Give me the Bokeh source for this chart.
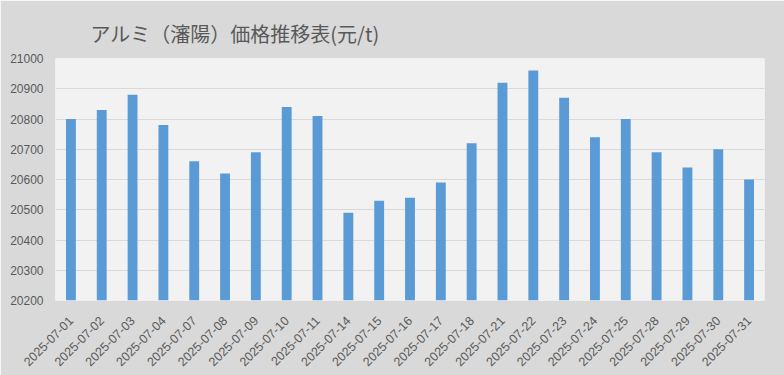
import math
from bokeh.plotting import figure
from bokeh.models import ColumnDataSource, Range1d, FixedTicker
from bokeh.embed import file_html
from bokeh.resources import INLINE

dates = ["2025-07-01", "2025-07-02", "2025-07-03", "2025-07-04", "2025-07-07",
         "2025-07-08", "2025-07-09", "2025-07-10", "2025-07-11", "2025-07-14",
         "2025-07-15", "2025-07-16", "2025-07-17", "2025-07-18", "2025-07-21",
         "2025-07-22", "2025-07-23", "2025-07-24", "2025-07-25", "2025-07-28",
         "2025-07-29", "2025-07-30", "2025-07-31"]
prices = [20800, 20830, 20880, 20780, 20660,
          20620, 20690, 20840, 20810, 20490,
          20530, 20540, 20590, 20720, 20920,
          20960, 20870, 20740, 20800, 20690,
          20640, 20700, 20600]
y_ticks = [20200, 20300, 20400, 20500, 20600, 20700, 20800, 20900, 21000]
title_text = "アルミ（瀋陽）価格推移表(元/t)"

source = ColumnDataSource(data=dict(date=dates, price=prices))

p = figure(x_range=dates, y_range=Range1d(y_ticks[0], y_ticks[-1]),
           width=784, height=375, output_backend="svg", toolbar_location=None,
           min_border_left=55, min_border_right=20, min_border_top=58,
           min_border_bottom=75)

p.vbar(x="date", top="price", bottom=y_ticks[0], width=0.32, source=source,
       fill_color="#5b9bd5", line_color=None)

p.background_fill_color = "#f2f2f2"
p.border_fill_color = "#d9d9d9"
p.outline_line_color = None

p.title.text = title_text
p.title.text_font = "Noto Sans CJK JP"
p.title.text_font_size = "20px"
p.title.text_font_style = "normal"
p.title.text_color = "#595959"
p.title.align = "left"
p.title.offset = 35
p.title.standoff = 21

p.xgrid.grid_line_color = None
p.ygrid.grid_line_color = "#d9d9d9"
p.ygrid.grid_line_width = 1

p.yaxis.ticker = FixedTicker(ticks=y_ticks)
p.yaxis.axis_line_color = None
p.yaxis.major_tick_line_color = None
p.yaxis.minor_tick_line_color = None
p.yaxis.major_tick_out = 0
p.yaxis.major_label_standoff = 12
p.yaxis.major_label_text_font = "Liberation Sans"
p.yaxis.major_label_text_font_size = "12px"
p.yaxis.major_label_text_color = "#595959"

p.xaxis.axis_line_color = None
p.xaxis.major_tick_line_color = None
p.xaxis.major_tick_out = 0
p.xaxis.major_label_standoff = 18
p.xaxis.major_label_orientation = math.pi / 4
p.xaxis.major_label_text_font = "Liberation Sans"
p.xaxis.major_label_text_font_size = "12.5px"
p.xaxis.major_label_text_color = "#595959"

open("out.html", "w").write(file_html(p, INLINE))
